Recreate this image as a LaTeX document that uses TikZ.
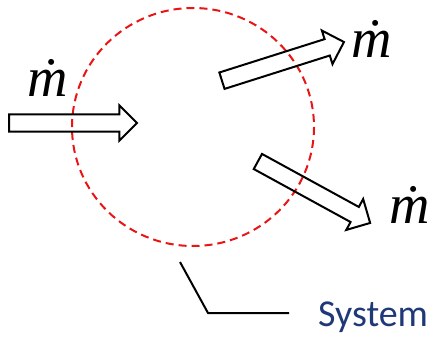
\documentclass[tikz,border=0pt]{standalone}
\usepackage{fontspec}
\setmainfont{Liberation Serif}
\newfontfamily\sysfont{Carlito}
\usetikzlibrary{shapes.arrows, positioning}

\definecolor{sysblue}{RGB}{31,56,120}
\definecolor{sysred}{RGB}{235,20,20}
\tikzset{
  flow/.style={single arrow, draw, line width=2pt, minimum height=128pt,
    inner xsep=0pt, inner ysep=7.6pt, single arrow head extend=9pt,
    single arrow head indent=0pt, anchor=tail},
  mdot/.style={font=\fontsize{56}{56}\selectfont\itshape, inner sep=0pt, anchor=base}
}

\begin{document}
\begin{tikzpicture}[x=1pt, y=-1pt]
\useasboundingbox (0, 0) rectangle (430, 337);

\draw [sysred, line width=2pt, dash pattern=on 8pt off 5pt] (193, 127) ellipse [x radius=121, y radius=119];

\node [flow] (inflow) at (8, 123) {};
\node [flow, rotate=17.6] (outflowa) at (221, 81) {};
\node [flow, rotate=-28.7] (outflowb) at (257, 161) {};

\node [mdot] (min) at (48, 96) {ṁ};
\node [mdot] (mouta) at (372, 57) {ṁ};
\node [mdot] (moutb) at (410, 223) {ṁ};

\node [font=\sysfont\fontsize{38}{38}\selectfont, text=sysblue, anchor=base west, inner sep=0pt] (sys) at (318, 326) {System};

\coordinate (pin) at (180, 262);
\coordinate (bend) at (208, 313);
\coordinate (lineend) at (289, 313);
\draw [line width=2pt] (pin) -- (bend) -- (lineend);

\end{tikzpicture}
\end{document}
